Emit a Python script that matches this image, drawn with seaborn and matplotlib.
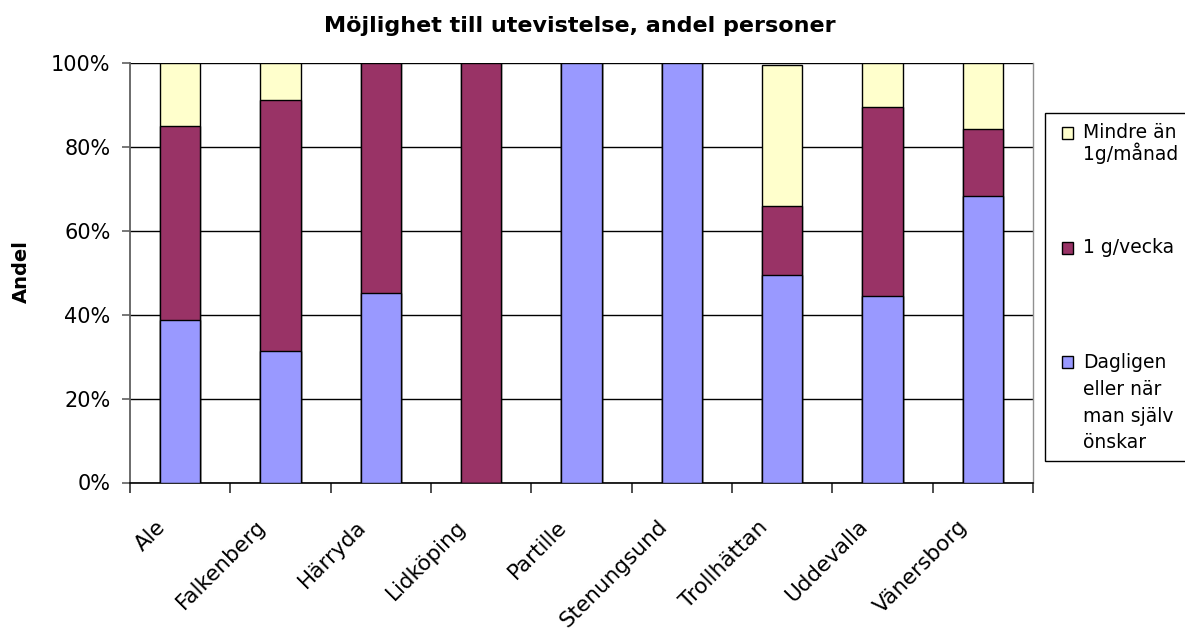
import matplotlib
matplotlib.use("Agg")
import matplotlib.pyplot as plt
import matplotlib.transforms as mtransforms
import seaborn as sns
import pandas as pd
import numpy as np
from matplotlib.patches import Rectangle
from matplotlib.ticker import FixedLocator, PercentFormatter

categories = ["Ale", "Falkenberg", "Härryda", "Lidköping", "Partille",
              "Stenungsund", "Trollhättan", "Uddevalla", "Vänersborg"]
dagligen = [38.7, 31.3, 45.2, 0.0, 100.0, 100.0, 49.4, 44.4, 68.3]
en_g_vecka = [46.4, 59.8, 54.8, 100.0, 0.0, 0.0, 16.4, 45.2, 16.0]
mindre_an = [14.9, 8.9, 0.0, 0.0, 0.0, 0.0, 33.8, 10.4, 15.7]

legend_lines = [["Mindre än", "1g/månad"],
                ["1 g/vecka"],
                ["Dagligen", "eller när", "man själv", "önskar"]]
yticks = [0, 20, 40, 60, 80, 100]
title = "Möjlighet till utevistelse, andel personer"
ylabel = "Andel"

c_blue, c_maroon, c_yellow = "#9999FF", "#993366", "#FFFFCC"

df = pd.DataFrame({"kommun": categories, "dag": dagligen,
                   "vecka": en_g_vecka, "mindre": mindre_an})
df["cum_vecka"] = df["dag"] + df["vecka"]
df["cum_mindre"] = df["cum_vecka"] + df["mindre"]

sns.set_theme(style="white")
plt.rcParams["font.family"] = ["DejaVu Sans"]
for k in ["text.color", "axes.labelcolor", "xtick.color", "ytick.color"]:
    plt.rcParams[k] = "black"

W, H = 1185, 635
fx = lambda px: px / W
fy = lambda py: 1 - py / H

fig = plt.figure(figsize=(W / 100, H / 100), dpi=100)
ax = fig.add_axes([fx(130), fy(482.5), 903 / W, 419.5 / H])

common = dict(data=df, x="kommun", width=0.4, edgecolor="black",
              linewidth=1.0, ax=ax, zorder=3, errorbar=None, saturation=1)
sns.barplot(y="cum_mindre", color=c_yellow, **common)
sns.barplot(y="cum_vecka", color=c_maroon, **common)
sns.barplot(y="dag", color=c_blue, **common)

ax.set_ylim(0, 100)
ax.set_xlim(-0.5, len(categories) - 0.5)
ax.yaxis.set_major_locator(FixedLocator(yticks))
ax.yaxis.set_major_formatter(PercentFormatter(decimals=0))
ax.grid(axis="y", color="black", linewidth=1.0, zorder=0)
ax.set_axisbelow(True)

ax.spines["left"].set_color("#606060")
ax.spines["left"].set_linewidth(1.3)
ax.spines["right"].set_color("#909090")
ax.spines["right"].set_linewidth(1.0)
ax.spines["top"].set_visible(False)
ax.spines["bottom"].set_color("black")
ax.spines["bottom"].set_linewidth(1.2)

ax.tick_params(axis="y", which="major", length=6, width=1.2, color="#606060",
               direction="out", labelsize=15, pad=8, left=True)
ax.set_xticks(range(len(categories)))
ax.set_xticklabels(categories, fontsize=15.5)
ax.tick_params(axis="x", which="major", length=0, pad=0, bottom=True)
offset = mtransforms.ScaledTranslation(-0.18, -0.41, fig.dpi_scale_trans)
for lab in ax.get_xticklabels():
    lab.set_rotation(45)
    lab.set_rotation_mode("anchor")
    lab.set_ha("right")
    lab.set_va("center")
    lab.set_transform(lab.get_transform() + offset)
ax.set_xticks(np.arange(-0.5, len(categories), 1.0), minor=True)
ax.tick_params(axis="x", which="minor", length=7, width=1.2, color="#303030",
               direction="out", bottom=True)

ax.set_xlabel("")
ax.set_ylabel("")
fig.text(fx(21), fy(272), ylabel, rotation=90, ha="center", va="center",
         fontsize=14, fontweight="bold")
fig.text(fx(580), fy(32), title, ha="center", va="baseline",
         fontsize=16, fontweight="bold")

# legend box
fig.add_artist(Rectangle((fx(1045), fy(461)), fx(1210) - fx(1045),
                         fy(113) - fy(461), transform=fig.transFigure,
                         facecolor="white", edgecolor="black", linewidth=1.0))
square_tops = [127, 242, 356]
line_baselines = [[138.5, 160], [253], [368, 395, 421.5, 448]]
for col, top, lines, bases in zip([c_yellow, c_maroon, c_blue], square_tops,
                                  legend_lines, line_baselines):
    fig.add_artist(Rectangle((fx(1062), fy(top + 12)), 11 / W, 12 / H,
                             transform=fig.transFigure, facecolor=col,
                             edgecolor="black", linewidth=1.0))
    for line, b in zip(lines, bases):
        fig.text(fx(1083), fy(b), line, ha="left", va="baseline",
                 fontsize=13.5)

fig.savefig("out.png", dpi=100)
